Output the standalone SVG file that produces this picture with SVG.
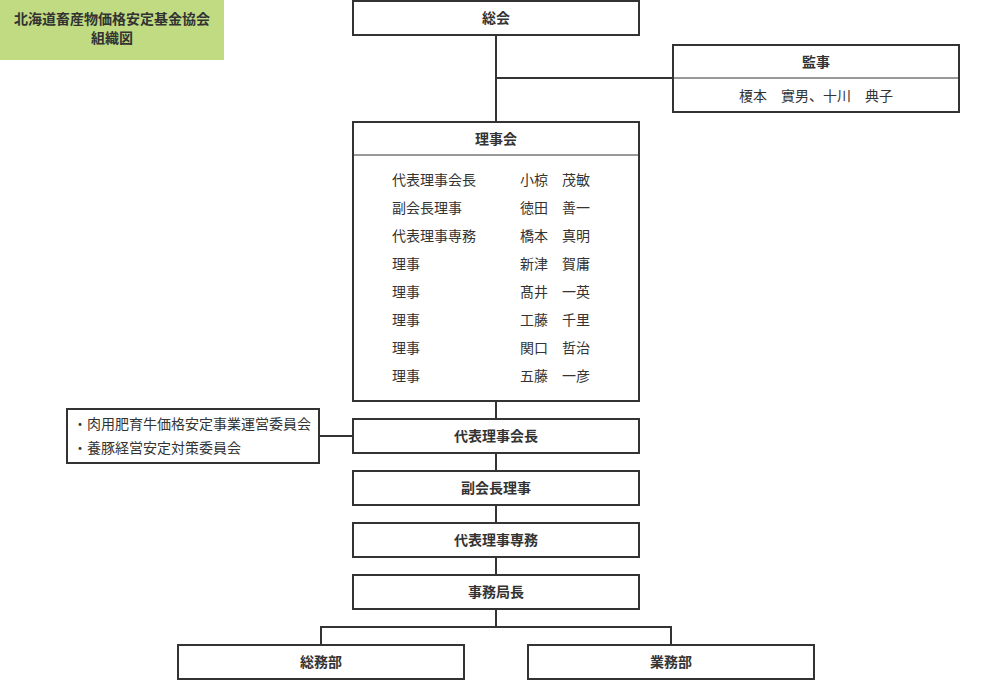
<svg xmlns="http://www.w3.org/2000/svg" width="992" height="680" viewBox="0 0 992 680">
<style>
.b{fill:#fff;stroke:#333;stroke-width:2}
.t{font-family:"Noto Sans CJK JP",sans-serif;font-size:14px;fill:#333}
.h{font-weight:bold;text-anchor:middle}
.c line{stroke:#333;stroke-width:2}
</style>
<g id="title"><rect x="0" y="0" width="224" height="60" fill="#c0db82"/>
<text class="t h" x="112" y="24" font-size="13">北海道畜産物価格安定基金協会</text>
<text class="t h" x="112" y="43" font-size="13">組織図</text></g>
<g class="c">
<line x1="496" y1="35" x2="496" y2="122"/><line x1="496" y1="78" x2="673" y2="78"/>
<line x1="496" y1="401" x2="496" y2="575"/><line x1="319" y1="436" x2="353" y2="436"/>
<line x1="496" y1="609" x2="496" y2="627"/><line x1="320" y1="627" x2="672" y2="627"/>
<line x1="321" y1="626" x2="321" y2="645"/><line x1="671" y1="626" x2="671" y2="645"/>
</g>
<g id="soukai"><rect class="b" x="353" y="1" width="286" height="34"/><text class="t h" x="496" y="23">総会</text></g>
<g id="kanji"><rect class="b" x="673" y="45" width="286" height="67"/><line x1="673" y1="78" x2="959" y2="78" stroke="#333"/>
<text class="t h" x="816" y="67">監事</text><text class="t" x="816" y="101" text-anchor="middle">榎本　實男、十川　典子</text></g>
<g id="rijikai"><rect class="b" x="353" y="122" width="286" height="279"/><line x1="353" y1="155" x2="639" y2="155" stroke="#333"/>
<text class="t h" x="496" y="144">理事会</text>
<text class="t" x="392" y="185">代表理事会長</text><text class="t" x="520" y="185">小椋　茂敏</text>
<text class="t" x="392" y="213">副会長理事</text><text class="t" x="520" y="213">徳田　善一</text>
<text class="t" x="392" y="241">代表理事専務</text><text class="t" x="520" y="241">橋本　真明</text>
<text class="t" x="392" y="269">理事</text><text class="t" x="520" y="269">新津　賀庸</text>
<text class="t" x="392" y="297">理事</text><text class="t" x="520" y="297">髙井　一英</text>
<text class="t" x="392" y="325">理事</text><text class="t" x="520" y="325">工藤　千里</text>
<text class="t" x="392" y="353">理事</text><text class="t" x="520" y="353">関口　哲治</text>
<text class="t" x="392" y="381">理事</text><text class="t" x="520" y="381">五藤　一彦</text></g>
<g id="iinkai"><rect class="b" x="67" y="409" width="252" height="54"/>
<text class="t" x="73" y="429" font-size="13">・肉用肥育牛価格安定事業運営委員会</text>
<text class="t" x="73" y="453" font-size="13">・養豚経営安定対策委員会</text></g>
<g id="kaicho"><rect class="b" x="353" y="419" width="286" height="34"/><text class="t h" x="496" y="441">代表理事会長</text></g>
<g id="fuku"><rect class="b" x="353" y="471" width="286" height="34"/><text class="t h" x="496" y="493">副会長理事</text></g>
<g id="senmu"><rect class="b" x="353" y="523" width="286" height="34"/><text class="t h" x="496" y="545">代表理事専務</text></g>
<g id="jimu"><rect class="b" x="353" y="575" width="286" height="34"/><text class="t h" x="496" y="597">事務局長</text></g>
<g id="soumu"><rect class="b" x="178" y="645" width="286" height="34"/><text class="t h" x="321" y="667">総務部</text></g>
<g id="gyomu"><rect class="b" x="528" y="645" width="286" height="34"/><text class="t h" x="671" y="667">業務部</text></g>
</svg>
